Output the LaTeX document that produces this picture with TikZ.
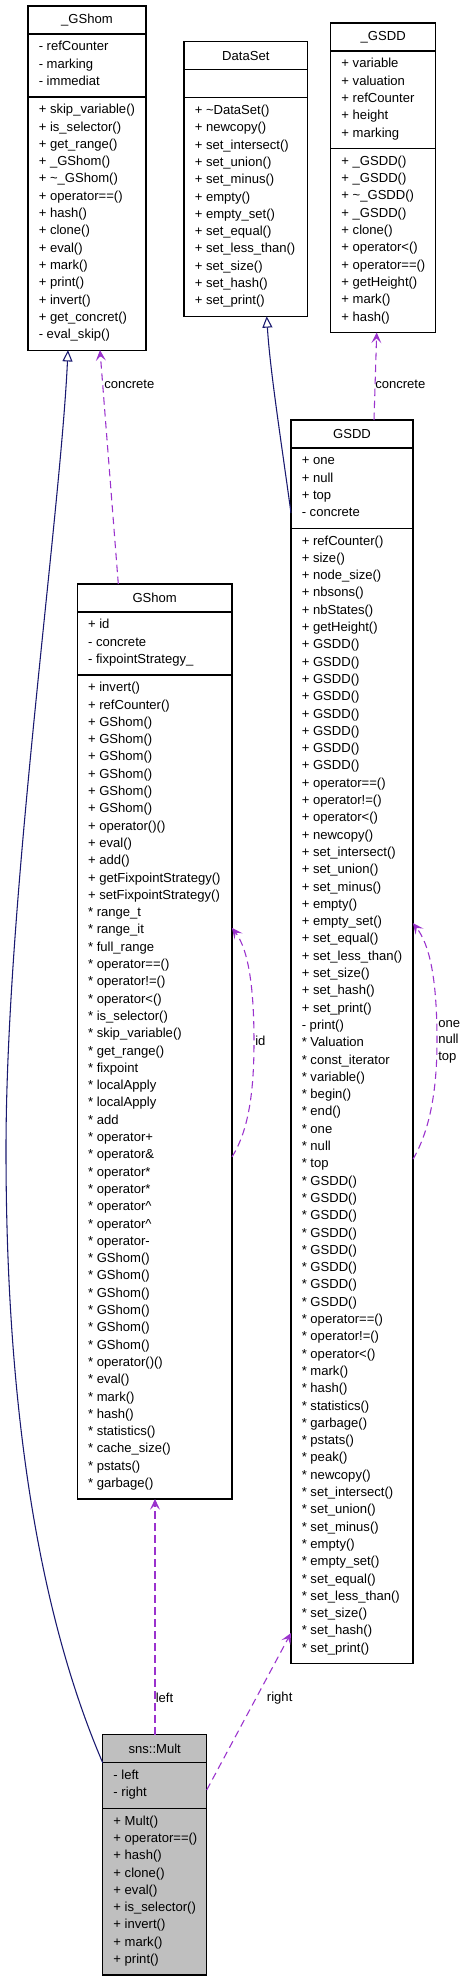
\documentclass[tikz,border=0pt]{standalone}
\usepackage{fontspec}
\setmainfont{Liberation Sans}
\usetikzlibrary{arrows.meta,calc}
\definecolor{navyc}{HTML}{191970}
\definecolor{purp}{HTML}{9A32CD}
\definecolor{multgray}{HTML}{BFBFBF}
\newcommand\cf{\fontsize{9.8}{13}\selectfont}
\tikzset{
 part/.style={draw=black, line width=0.9pt, anchor=north west, inner sep=0pt, outer sep=0pt, font=\cf},
 mem/.style={anchor=base west, inner sep=0pt, font=\cf},
 inh/.style={draw=navyc, line width=0.8pt, -{Triangle[open,length=8.5pt,width=7.5pt]}},
 use/.style={draw=purp, line width=0.8pt, dash pattern=on 5.5pt off 3.5pt, -{Stealth[length=8pt,width=7.5pt,inset=3.5pt]}},
 lbl/.style={anchor=west, inner sep=0pt, font=\cf},
}
\newcommand\ctitle[6]{%
 \node[part, fill=#5, minimum width={#4*0.75pt}, minimum height={28*0.75pt}] (#1) at (#2,#3) {#6};}
\newcommand\compart[7]{%
 \node[part, fill=#6, minimum width={#4*0.75pt}, minimum height={(#5*17.3+11)*0.75pt}] (#1) at (#2,#3) {};
 \foreach \mtxt [count=\i from 0] in {#7} {\node[mem] (#1l\i) at ({#2+10.5},{#3+16.8+\i*17.3}) {\mtxt};}}
\begin{document}
\begin{tikzpicture}[x=0.75pt,y=-0.75pt]
\useasboundingbox (0,0) rectangle (464,1981);
\fill[white] (0,0) rectangle (464,1981);
% _GShom
\ctitle{gst}{28}{6}{118}{white}{\_GShom}
\compart{gsa}{28}{34}{118}{3}{white}{- refCounter, - marking, - immediat}
\compart{gsm}{28}{96.9}{118}{14}{white}{+ skip\_variable(), + is\_selector(), + get\_range(), + \_GShom(), + \textasciitilde\_GShom(), + operator==(), + hash(), + clone(), + eval(), + mark(), + print(), + invert(), + get\_concret(), - eval\_skip()}
% DataSet
\ctitle{dst}{184}{41.7}{123.7}{white}{DataSet}
\node[part, fill=white, minimum width={123.7*0.75pt}, minimum height={28*0.75pt}] (dsa) at (184,69.7) {};
\compart{dsm}{184}{97.7}{123.7}{12}{white}{+ \textasciitilde DataSet(), + newcopy(), + set\_intersect(), + set\_union(), + set\_minus(), + empty(), + empty\_set(), + set\_equal(), + set\_less\_than(), + set\_size(), + set\_hash(), + set\_print()}
% _GSDD
\ctitle{gdt}{330.7}{23}{105}{white}{\_GSDD}
\compart{gda}{330.7}{51}{105}{5}{white}{+ variable, + valuation, + refCounter, + height, + marking}
\compart{gdm}{330.7}{148.5}{105}{10}{white}{+ \_GSDD(), + \_GSDD(), + \textasciitilde\_GSDD(), + \_GSDD(), + clone(), + operator<(), + operator==(), + getHeight(), + mark(), + hash()}
% GSDD
\ctitle{gsddt}{291}{420}{122}{white}{GSDD}
\compart{gsdda}{291}{448}{122}{4}{white}{+ one, + null, + top, - concrete}
\compart{gsddm}{291}{528.2}{122}{65}{white}{+ refCounter(), + size(), + node\_size(), + nbsons(), + nbStates(), + getHeight(), + GSDD(), + GSDD(), + GSDD(), + GSDD(), + GSDD(), + GSDD(), + GSDD(), + GSDD(), + operator==(), + operator!=(), + operator<(), + newcopy(), + set\_intersect(), + set\_union(), + set\_minus(), + empty(), + empty\_set(), + set\_equal(), + set\_less\_than(), + set\_size(), + set\_hash(), + set\_print(), - print(), * Valuation, * const\_iterator, * variable(), * begin(), * end(), * one, * null, * top, * GSDD(), * GSDD(), * GSDD(), * GSDD(), * GSDD(), * GSDD(), * GSDD(), * GSDD(), * operator==(), * operator!=(), * operator<(), * mark(), * hash(), * statistics(), * garbage(), * pstats(), * peak(), * newcopy(), * set\_intersect(), * set\_union(), * set\_minus(), * empty(), * empty\_set(), * set\_equal(), * set\_less\_than(), * set\_size(), * set\_hash(), * set\_print()}
% GShom
\ctitle{ght}{77.3}{584}{154.7}{white}{GShom}
\compart{gha}{77.3}{612}{154.7}{3}{white}{+ id, - concrete, - fixpointStrategy\_}
\compart{ghm}{77.3}{674.9}{154.7}{47}{white}{+ invert(), + refCounter(), + GShom(), + GShom(), + GShom(), + GShom(), + GShom(), + GShom(), + operator()(), + eval(), + add(), + getFixpointStrategy(), + setFixpointStrategy(), * range\_t, * range\_it, * full\_range, * operator==(), * operator!=(), * operator<(), * is\_selector(), * skip\_variable(), * get\_range(), * fixpoint, * localApply, * localApply, * add, * operator+, * operator\&, * operator*, * operator*, * operator\textasciicircum, * operator\textasciicircum, * operator-, * GShom(), * GShom(), * GShom(), * GShom(), * GShom(), * GShom(), * operator()(), * eval(), * mark(), * hash(), * statistics(), * cache\_size(), * pstats(), * garbage()}
% sns::Mult
\ctitle{mt}{102.7}{1734.7}{104}{multgray}{sns::Mult}
\compart{ma}{102.7}{1762.7}{104}{2}{multgray}{- left, - right}
\compart{mm}{102.7}{1808.3}{104}{9}{multgray}{+ Mult(), + operator==(), + hash(), + clone(), + eval(), + is\_selector(), + invert(), + mark(), + print()}
% inheritance
\draw[inh] (mt.south west) .. controls (50,1640) and (6,1450) .. (6,1150) .. controls (6,900) and (60,520) .. ($(gsm.south west)+(40,0)$);
\draw[inh] ($(gsdda.north west)+(0,65)$) .. controls (281,440) and (270,370) .. ($(dsm.south west)+(82.7,0)$);
% usage
\draw[use] ($(ght.north west)+(41,0)$) -- ($(gsm.south west)+(72,0)$);
\node[lbl] (lconca) at (104,384) {concrete};
\draw[use] ($(gsddt.north west)+(83,0)$) -- ($(gdm.south west)+(46,0)$);
\node[lbl] (lconcb) at (375,384) {concrete};
\draw[use] ($(ghm.north east)+(0,482)$) .. controls (249,1130) and (254,1090) .. (254,1042) .. controls (254,990) and (249,950) .. ($(ghm.north east)+(0,253)$);
\node[lbl] (lid) at (255,1041) {id};
\draw[use] ($(gsddm.north east)+(0,631)$) .. controls (430,1130) and (437,1090) .. (437,1041) .. controls (437,980) and (430,945) .. ($(gsddm.north east)+(0,395)$);
\node[lbl, align=left, font=\fontsize{9.8}{12.4}\selectfont] (lont) at (438,1041.5) {one\\null\\top};
\draw[use] ($(mt.north west)+(52.3,0)$) -- ($(ghm.south west)+(77.7,0)$);
\node[lbl] (lleft) at (155.5,1698) {left};
\draw[use] ($(ma.north east)+(0,27.3)$) -- ($(gsddm.south west)+(0,-30.7)$);
\node[lbl] (lright) at (266.7,1698) {right};
\end{tikzpicture}
\end{document}
